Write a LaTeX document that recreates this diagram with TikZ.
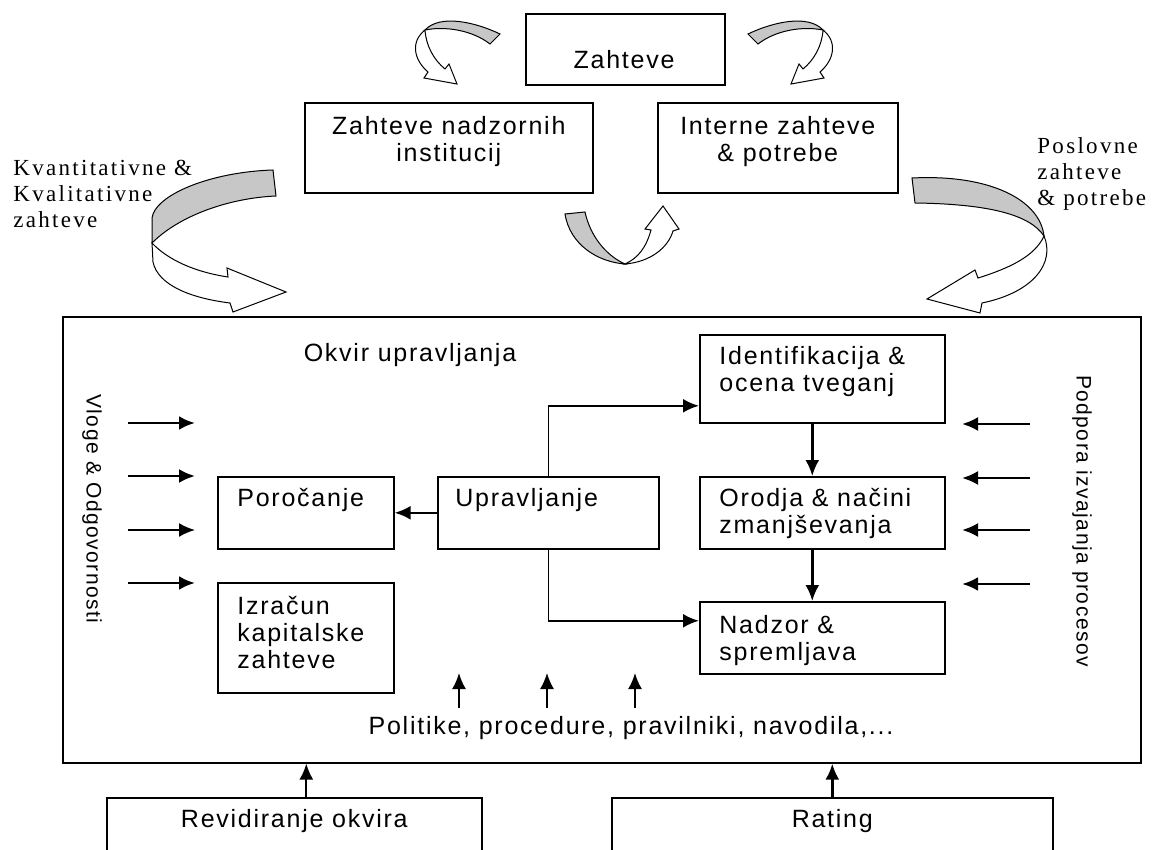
\documentclass[tikz,border=0pt]{standalone}
\usepackage{fontspec}
\setmainfont{Liberation Sans}[LetterSpace=7]
\newfontfamily\opisfont{Liberation Serif}[LetterSpace=10]
\usepackage{tikz}
\usetikzlibrary{positioning, arrows, arrows.meta}
\definecolor{trakgray}{rgb}{0.78, 0.78, 0.78}

\begin{document}
\begin{tikzpicture}[x=0.5pt, y=-0.5pt, >={Latex[length=8pt,width=7pt]}, every node/.style={font=\fontsize{12.5}{13.5}\selectfont}]
			\useasboundingbox (0,0) rectangle (1168,850);
			\clip (0,0) rectangle (1168,850);
			%%
			\tikzstyle{skatla}=[rectangle, draw=black, line width=0.8pt, anchor=north west, inner sep=0pt]
			\tikzstyle{napis}=[inner sep=0pt, align=left]
			\tikzstyle{opis}=[inner sep=0pt, align=left, anchor=north west, font=\opisfont\fontsize{11.5}{13}\selectfont]
			\tikzstyle{navpicno}=[inner sep=0pt, rotate=-90, font=\fontsize{10.5}{12}\selectfont]
			\tikzstyle{puscica}=[->, line width=1.2pt]
			\tikzstyle{trak}=[draw=black, line width=0.5pt, fill=trakgray]
			\tikzstyle{trakb}=[draw=black, line width=0.5pt, fill=white]
			%%
			\node (zah) at (525,13) [skatla, minimum width=99.5pt, minimum height=35.5pt] {};
			\node (nad) at (304,102) [skatla, minimum width=144pt, minimum height=45pt] {};
			\node (int) at (657,102) [skatla, minimum width=120pt, minimum height=45pt] {};
			\node (glavni) at (62,316) [skatla, minimum width=539pt, minimum height=223pt] {};
			\node (por) at (217,476) [skatla, minimum width=88pt, minimum height=36pt] {};
			\node (izr) at (217,582) [skatla, minimum width=88pt, minimum height=55pt] {};
			\node (upr) at (437,476) [skatla, minimum width=110.5pt, minimum height=36pt] {};
			\node (ide) at (699,334) [skatla, minimum width=122.5pt, minimum height=44pt] {};
			\node (oro) at (699,476) [skatla, minimum width=122.5pt, minimum height=36pt] {};
			\node (nadz) at (699,601) [skatla, minimum width=122.5pt, minimum height=36pt] {};
			\node (rev) at (106,797) [skatla, minimum width=187.5pt, minimum height=40pt] {};
			\node (rat) at (611,797) [skatla, minimum width=220.5pt, minimum height=40pt] {};
			
			\node (tzah) at (624,60) [napis] {Zahteve};
			\node [below=7pt of nad.north, napis, align=center](tnad) {Zahteve nadzornih\\institucij};
			\node [below=7pt of int.north, napis, align=center](tint) {Interne zahteve\\\& potrebe};
			\node [below right=6pt and 10pt of por.north west, napis](tpor) {Poročanje};
			\node [below right=7pt and 10pt of izr.north west, napis](tizr) {Izračun\\kapitalske\\zahteve};
			\node [below right=6pt and 9pt of upr.north west, napis](tupr) {Upravljanje};
			\node [below right=6pt and 10pt of ide.north west, napis](tide) {Identifikacija \&\\ocena tveganj};
			\node [below right=6pt and 10pt of oro.north west, napis](toro) {Orodja \& načini\\zmanjševanja};
			\node [below right=7pt and 10pt of nadz.north west, napis](tnadz) {Nadzor \&\\spremljava};
			\node [below=6pt of rev.north, napis](trev) {Revidiranje okvira};
			\node [below=6pt of rat.north, napis](trat) {Rating};
			
			\node (tokv) at (410,355) [napis] {Okvir upravljanja};
			\node (tpol) at (631,728) [napis] {Politike, procedure, pravilniki, navodila,...};
			\node (tvlo) at (92,509) [navpicno] {Vloge \& Odgovornosti};
			\node (tpod) at (1082,521) [navpicno] {Podpora izvajanja procesov};
			\node (tkva) at (13,160) [opis] {Kvantitativne \&\\Kvalitativne\\zahteve};
			\node (tpos) at (1037,137) [opis] {Poslovne\\zahteve\\\& potrebe};
			
			%% povezave
			\coordinate (k1) at ([yshift=-13.5pt]ide.west);
			\coordinate (k2) at ([yshift=8.5pt]nadz.west);
			\draw [line width=0.6pt] (upr.north) -- (upr.north |- k1);
			\draw [puscica] (upr.north |- k1) -- (k1);
			\draw [line width=0.6pt] (upr.south) -- (upr.south |- k2);
			\draw [puscica] (upr.south |- k2) -- (k2);
			\draw [puscica] (upr.west) -- (por.east);
			\draw [puscica] ([xshift=-5pt]ide.south) -- ([xshift=-5pt]oro.north);
			\draw [puscica] ([xshift=-5pt]oro.south) -- ([xshift=-5pt]nadz.north);
			\draw [puscica, line width=1pt] ([xshift=6pt]rev.north) -- ([xshift=6pt]rev.north |- glavni.south);
			\draw [puscica, line width=1.4pt] (rat.north) -- (rat.north |- glavni.south);
			
			%% puscice levo, desno, spodaj
			\coordinate (v1) at (128,423); \coordinate (v1k) at (195,423);
			\coordinate (v2) at (128,476); \coordinate (v2k) at (195,476);
			\coordinate (v3) at (128,530); \coordinate (v3k) at (195,530);
			\coordinate (v4) at (128,583); \coordinate (v4k) at (195,583);
			\draw [puscica, line width=1.4pt] (v1) -- (v1k);
			\draw [puscica] (v2) -- (v2k);
			\draw [puscica, line width=1pt] (v3) -- (v3k);
			\draw [puscica, line width=1.4pt] (v4) -- (v4k);
			
			\coordinate (p1) at (1030,424); \coordinate (p1k) at (962,424);
			\coordinate (p2) at (1030,478); \coordinate (p2k) at (962,478);
			\coordinate (p3) at (1030,530); \coordinate (p3k) at (962,530);
			\coordinate (p4) at (1030,584); \coordinate (p4k) at (962,584);
			\draw [puscica] (p1) -- (p1k);
			\draw [puscica] (p2) -- (p2k);
			\draw [puscica] (p3) -- (p3k);
			\draw [puscica, line width=1.4pt] (p4) -- (p4k);
			
			\coordinate (u1) at (459,708); \coordinate (u1k) at (459,673);
			\coordinate (u2) at (547,708); \coordinate (u2k) at (547,673);
			\coordinate (u3) at (635,708); \coordinate (u3k) at (635,673);
			\draw [puscica, line width=1pt] (u1) -- (u1k);
			\draw [puscica, line width=0.8pt] (u2) -- (u2k);
			\draw [puscica, line width=1pt] (u3) -- (u3k);
			
			%% ukrivljene puscice
			\draw [trak] (273,170) .. controls (210,172) and (155,195) .. (152,218) -- (152,243) .. controls (180,215) and (230,198) .. (276,196) -- cycle;
			\draw [trakb] (152,243) -- (153,262) .. controls (158,285) and (190,298) .. (230,303) -- (233,312) -- (286,292) -- (227,268) -- (228,277) .. controls (195,272) and (168,260) .. (152,243) -- cycle;
			
			\draw [trak] (912,178) .. controls (990,174) and (1040,200) .. (1044,236) .. controls (1030,215) and (990,204) .. (915,203) -- cycle;
			\draw [trakb] (1044,236) .. controls (1055,262) and (1035,292) .. (982,303) -- (980,313) -- (927,299) -- (975,270) -- (978,278) .. controls (1010,268) and (1035,256) .. (1044,236) -- cycle;
			
			\draw [trak] (500,34) .. controls (475,22) and (440,14) .. (425,30) .. controls (445,26) and (472,30) .. (490,44) -- cycle;
			\draw [trakb] (425,30) .. controls (410,42) and (414,60) .. (428,72) -- (424,78) -- (457,84) -- (449,64) -- (445,69) .. controls (434,60) and (426,46) .. (425,30) -- cycle;
			
			\draw [trak] (748,34) .. controls (773,22) and (808,14) .. (823,30) .. controls (803,26) and (776,30) .. (758,44) -- cycle;
			\draw [trakb] (823,30) .. controls (838,42) and (834,60) .. (820,72) -- (824,78) -- (791,84) -- (799,64) -- (803,69) .. controls (814,60) and (822,46) .. (823,30) -- cycle;
			
			\draw [trak] (565,214) -- (585,212) .. controls (590,235) and (605,255) .. (625,264) .. controls (598,262) and (570,245) .. (565,214) -- cycle;
			\draw [trakb] (625,264) .. controls (650,262) and (668,248) .. (673,231) -- (679,229) -- (663,206) -- (645,229) -- (651,230) .. controls (646,248) and (638,258) .. (625,264) -- cycle;
\end{tikzpicture}
\end{document}
